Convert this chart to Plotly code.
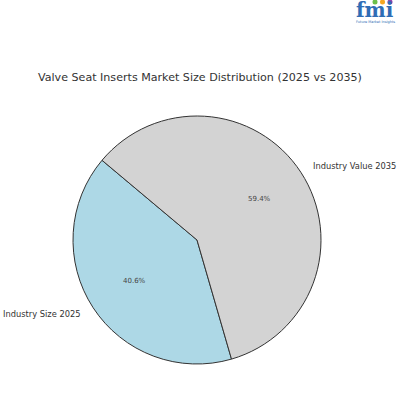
import math
import plotly.graph_objects as go

labels = ["Industry Size 2025", "Industry Value 2035"]
shares = [40.6, 59.4]
colors = ["#ADD8E6", "#D3D3D3"]
title = "Valve Seat Inserts Market Size Distribution (2025 vs 2035)"

W, H = 400, 400
cx, cy, r = 197, 240, 124
start_angle = 140  # degrees, math convention, counterclockwise

total = sum(shares)
first_span = shares[0] / total * 360
# plotly (counterclockwise): first slice lies clockwise of the rotation line
rotation = 90 - start_angle - first_span

fig = go.Figure()
fig.add_trace(go.Pie(
    labels=labels, values=shares, sort=False, direction="counterclockwise",
    rotation=rotation,
    marker=dict(colors=colors, line=dict(color="#333333", width=1)),
    textinfo="none", hoverinfo="label+percent", showlegend=False,
    domain=dict(x=[(cx - r) / W, (cx + r) / W], y=[1 - (cy + r) / H, 1 - (cy - r) / H]),
))

ang = start_angle
annotations = []
for lab, v in zip(labels, shares):
    span = v / total * 360
    mid = math.radians(ang + span / 2)
    ang += span
    px = cx + 0.6 * r * math.cos(mid)
    py = cy - 0.6 * r * math.sin(mid)
    annotations.append(dict(x=px / W, y=1 - py / H, xref="paper", yref="paper",
                            text=f"{v:.1f}%", showarrow=False,
                            xanchor="center", yanchor="middle",
                            font=dict(family="DejaVu Sans", size=7, color="#444444")))
    lx = cx + 1.1 * r * math.cos(mid)
    ly = cy - 1.1 * r * math.sin(mid)
    annotations.append(dict(x=lx / W, y=1 - ly / H, xref="paper", yref="paper",
                            text=lab, showarrow=False,
                            xanchor="left" if math.cos(mid) > 0 else "right",
                            yanchor="middle",
                            font=dict(family="DejaVu Sans", size=8.3, color="#333333")))

annotations.append(dict(x=0.5, y=1 - 77 / H, xref="paper", yref="paper", text=title,
                        showarrow=False, xanchor="center", yanchor="middle",
                        font=dict(family="DejaVu Sans", size=11.1, color="#333333")))
# logo
annotations.append(dict(x=375 / W, y=1 - 10.5 / H, xref="paper", yref="paper", text="<b>fmi</b>",
                        showarrow=False, xanchor="center", yanchor="middle",
                        font=dict(family="DejaVu Serif", size=20, color="#2f6db5")))
annotations.append(dict(x=375 / W, y=1 - 22 / H, xref="paper", yref="paper",
                        text="Future Market Insights", showarrow=False,
                        xanchor="center", yanchor="middle",
                        font=dict(family="DejaVu Sans", size=3.5, color="#2f6db5")))
shapes = []
for dx, c in [(375, "#6cc04a"), (382.5, "#f5a623"), (390, "#8e44ad")]:
    shapes.append(dict(type="circle", xref="paper", yref="paper",
                       x0=(dx - 2.5) / W, x1=(dx + 2.5) / W, y0=1 - 4.5 / H, y1=1 + 0.5 / H,
                       fillcolor=c, line=dict(width=0)))

fig.update_layout(
    width=W, height=H, margin=dict(l=0, r=0, t=0, b=0),
    paper_bgcolor="white", plot_bgcolor="white",
    annotations=annotations, shapes=shapes,
)
fig.write_html("out.html", config={"displayModeBar": False},
               post_script="document.body.style.margin='0';")
